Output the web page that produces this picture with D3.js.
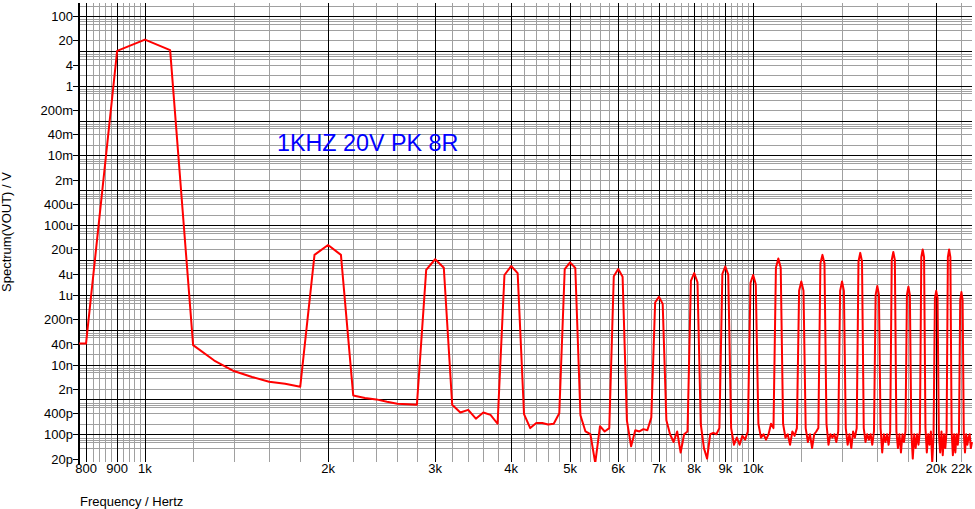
<!DOCTYPE html>
<html><head><meta charset="utf-8">
<script src="https://cdn.jsdelivr.net/npm/d3@7/dist/d3.min.js"></script>
<style>
html,body{margin:0;padding:0;background:#fff;}
svg{display:block;font-family:"Liberation Sans",Arial,sans-serif;}
</style></head>
<body>
<svg id="chart" width="975" height="509"></svg>
<script>
// ---- data ----
const freqs = [];
for (let f = 700; f <= 22900; f += 100) freqs.push(f);
const spectrum = [
 40e-9, 40e-9, 10, 21, 10.5, 36e-9, 13e-9, 6.5e-9, 4.4e-9, 3.2e-9, 2.8e-9, 2.3e-9,      // 700-1800
 14e-6, 27e-6, 14e-6, 1.3e-9, 1.1e-9, 1.0e-9, 0.85e-9, 0.75e-9, 0.72e-9, 0.7e-9,       // 1900-2800
 5.2e-6, 10.5e-6, 6e-6, 0.7e-9, 0.42e-9, 0.5e-9, 0.28e-9, 0.42e-9, 0.36e-9, 0.2e-9,    // 2900-3800
 3.7e-6, 6.7e-6, 4.2e-6, 0.38e-9, 0.15e-9, 0.21e-9, 0.21e-9, 0.19e-9, 0.2e-9, 0.4e-9,  // 3900-4800
 5.5e-6, 8.5e-6, 5.9e-6, 0.35e-9, 0.12e-9, 0.1e-9, 15e-12, 0.17e-9, 0.12e-9, 0.15e-9,  // 4900-5800
 3.4e-6, 5.5e-6, 3.3e-6, 0.25e-9, 45e-12, 0.13e-9, 0.12e-9, 0.14e-9, 0.13e-9, 0.3e-9,  // 5900-6800
 0.6e-6, 0.88e-6, 0.55e-6, 0.25e-9, 0.1e-9, 60e-12, 0.12e-9, 30e-12, 0.1e-9, 0.12e-9,  // 6900-7800
 2.5e-6, 4.2e-6, 2.3e-6, 0.2e-9, 40e-12, 20e-12, 0.1e-9, 0.11e-9, 0.1e-9, 0.15e-9,     // 7900-8800
 4e-6, 6.5e-6, 3.8e-6, 0.15e-9, 50e-12, 80e-12, 50e-12, 90e-12, 70e-12, 0.12e-9,       // 8900-9800
 2.2e-6, 3.7e-6, 2e-6, 0.2e-9, 80e-12, 0.1e-9, 70e-12, 0.1e-9, 0.2e-9, 0.15e-9,        // 9900-10800
 6e-6, 11e-6, 6e-6, 0.2e-9, 80e-12, 0.1e-9, 50e-12, 0.12e-9, 90e-12, 0.15e-9,          // 10900-11800
 1.3e-6, 2.4e-6, 1.3e-6, 0.15e-9, 60e-12, 0.1e-9, 40e-12, 0.1e-9, 0.12e-9, 0.15e-9,    // 11900-12800
 8e-6, 14e-6, 8e-6, 0.2e-9, 50e-12, 0.1e-9, 80e-12, 0.1e-9, 60e-12, 0.12e-9,           // 12900-13800
 1.3e-6, 2.4e-6, 1.3e-6, 0.15e-9, 50e-12, 0.1e-9, 40e-12, 0.12e-9, 80e-12, 0.15e-9,    // 13900-14800
 9e-6, 16e-6, 9e-6, 0.15e-9, 60e-12, 0.1e-9, 70e-12, 0.1e-9, 50e-12, 0.12e-9,          // 14900-15800
 1e-6, 1.8e-6, 1e-6, 0.15e-9, 30e-12, 0.1e-9, 60e-12, 0.1e-9, 50e-12, 0.12e-9,         // 15900-16800
 10e-6, 17e-6, 10e-6, 0.12e-9, 40e-12, 0.1e-9, 30e-12, 0.1e-9, 60e-12, 0.12e-9,        // 16900-17800
 1e-6, 1.7e-6, 1e-6, 0.12e-9, 20e-12, 0.1e-9, 40e-12, 0.1e-9, 50e-12, 0.12e-9,         // 17900-18800
 12e-6, 20e-6, 12e-6, 0.15e-9, 30e-12, 0.1e-9, 50e-12, 0.12e-9, 15e-12, 0.1e-9,        // 18900-19800
 0.8e-6, 1.3e-6, 0.8e-6, 0.1e-9, 30e-12, 0.12e-9, 25e-12, 0.1e-9, 40e-12, 0.12e-9,     // 19900-20800
 12e-6, 20e-6, 12e-6, 0.12e-9, 25e-12, 0.1e-9, 30e-12, 0.1e-9, 50e-12, 0.12e-9,        // 20900-21800
 0.7e-6, 1.2e-6, 0.7e-6, 0.1e-9, 30e-12, 0.1e-9, 50e-12, 80e-12, 0.1e-9, 40e-12, 60e-12 // 21900-22900
];

const xMajor = [800, 900, 1000, 2000, 3000, 4000, 5000, 6000, 7000, 8000, 9000, 10000, 20000];
const xMinor = [820, 840, 860, 880, 920, 940, 960, 980,
  1200, 1400, 1600, 1800, 2200, 2400, 2600, 2800, 3200, 3400, 3600, 3800,
  4200, 4400, 4600, 4800, 5200, 5400, 5600, 5800, 6200, 6400, 6600, 6800,
  7200, 7400, 7600, 7800, 8200, 8400, 8600, 8800, 9200, 9400, 9600, 9800,
  12000, 14000, 16000, 18000, 22000];
const xTickValues = [800, 900, 1000, 2000, 3000, 4000, 5000, 6000, 7000, 8000, 9000, 10000, 20000, 22000];
const xTickLabels = ["800", "900", "1k", "2k", "3k", "4k", "5k", "6k", "7k", "8k", "9k", "10k", "20k", "22k"];

const yMajor = [1e-10, 1e-9, 1e-8, 1e-7, 1e-6, 1e-5, 1e-4, 1e-3, 1e-2, 1e-1, 1, 10, 100];
const yMinorMult = [2, 4, 6, 7, 8];
const yTickValues = [100, 20, 4, 1, 0.2, 0.04, 0.01, 2e-3, 4e-4, 1e-4, 2e-5, 4e-6, 1e-6, 2e-7, 4e-8, 1e-8, 2e-9, 4e-10, 1e-10, 2e-11];
const yTickLabels = ["100", "20", "4", "1", "200m", "40m", "10m", "2m", "400u", "100u", "20u", "4u", "1u", "200n", "40n", "10n", "2n", "400p", "100p", "20p"];

const annotation = "1KHZ 20V PK 8R";

// ---- layout ----
const pLeft = 79, pRight = 972, pTop = 3, pBottom = 458.6;
const svg = d3.select("#chart");
const x = d3.scaleLog().domain([779, 22900]).range([pLeft, pRight]);
const y = d3.scaleLog().domain([20e-12, 236]).range([pBottom, pTop]);

const yMinor = [];
[1e-11, ...yMajor].forEach(d => yMinorMult.forEach(m => {
  const v = d * m;
  if (v > 20e-12 && v < 236) yMinor.push(v);
}));

const grid = svg.append("g").attr("shape-rendering", "crispEdges");
grid.selectAll(".hmin").data(yMinor).join("line")
  .attr("x1", pLeft).attr("x2", pRight)
  .attr("y1", d => Math.round(y(d)) + 0.5).attr("y2", d => Math.round(y(d)) + 0.5)
  .attr("stroke", "#a0a0a0");
grid.selectAll(".vmin").data(xMinor).join("line")
  .attr("y1", pTop).attr("y2", pBottom + 3)
  .attr("x1", d => Math.round(x(d)) + 0.5).attr("x2", d => Math.round(x(d)) + 0.5)
  .attr("stroke", "#a0a0a0");
grid.selectAll(".hmaj").data(yMajor).join("line")
  .attr("x1", pLeft).attr("x2", pRight)
  .attr("y1", d => Math.round(y(d)) + 0.5).attr("y2", d => Math.round(y(d)) + 0.5)
  .attr("stroke", "#000");
grid.selectAll(".vmaj").data(xMajor).join("line")
  .attr("y1", pTop).attr("y2", pBottom + 3)
  .attr("x1", d => Math.round(x(d)) + 0.5).attr("x2", d => Math.round(x(d)) + 0.5)
  .attr("stroke", "#000");

grid.append("rect").attr("x", pLeft - 1).attr("y", pTop).attr("width", 2).attr("height", pBottom - pTop + 6).attr("fill", "#000");
const yAx = svg.append("g");
yTickValues.forEach((v, i) => {
  const yy = Math.round(y(v)) + 0.5;
  yAx.append("line").attr("x1", pLeft - 6).attr("x2", pLeft).attr("y1", yy).attr("y2", yy)
    .attr("stroke", "#000").attr("shape-rendering", "crispEdges");
  yAx.append("text").attr("x", pLeft - 6).attr("y", yy).attr("dy", "0.36em")
    .attr("text-anchor", "end").attr("font-size", 13).text(yTickLabels[i]);
});
const xAx = svg.append("g");
xTickValues.forEach((v, i) => {
  xAx.append("text").attr("x", x(v)).attr("y", 473)
    .attr("text-anchor", "middle").attr("font-size", 13).text(xTickLabels[i]);
});

svg.append("text").attr("x", 80).attr("y", 506).attr("font-size", 13).text("Frequency / Hertz");
svg.append("text").attr("transform", "translate(11,232) rotate(-90)")
  .attr("text-anchor", "middle").attr("font-size", 13).text("Spectrum(VOUT) / V");

svg.append("clipPath").attr("id", "clip").append("rect")
  .attr("x", pLeft).attr("y", pTop).attr("width", pRight - pLeft + 2).attr("height", 462 - pTop);

const line = d3.line().x((d, i) => x(freqs[i])).y(d => y(d));
svg.append("path").datum(spectrum)
  .attr("clip-path", "url(#clip)")
  .attr("fill", "none").attr("stroke", "#ff0000").attr("stroke-width", 2)
  .attr("stroke-linejoin", "round")
  .attr("d", line);

svg.append("text").attr("x", 277).attr("y", 151).attr("font-size", 23.3)
  .attr("fill", "#0000ff").text(annotation);
</script>
</body></html>
